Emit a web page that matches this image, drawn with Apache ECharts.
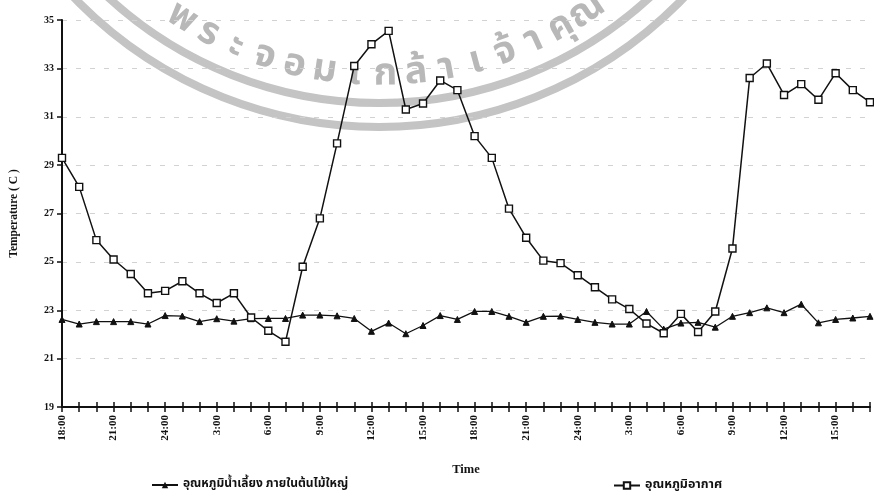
<!DOCTYPE html>
<html>
<head>
<meta charset="utf-8">
<script src="https://cdn.jsdelivr.net/npm/echarts@6/dist/echarts.min.js"></script>
<style>
  html, body { margin: 0; padding: 0; background: #fff; }
  #echart { width: 874px; height: 495px; }
</style>
</head>
<body>
<div id="echart"></div>
<script>
// hourly readings, 18:00 day 1 -> 17:00 day 3
var hours = ['18:00','19:00','20:00','21:00','22:00','23:00','24:00','1:00','2:00','3:00','4:00','5:00',
    '6:00','7:00','8:00','9:00','10:00','11:00','12:00','13:00','14:00','15:00','16:00','17:00',
    '18:00','19:00','20:00','21:00','22:00','23:00','24:00','1:00','2:00','3:00','4:00','5:00',
    '6:00','7:00','8:00','9:00','10:00','11:00','12:00','13:00','14:00','15:00','16:00','17:00'];

// อุณหภูมิน้ำเลี้ยง (triangles)
var sapTemp = [22.62, 22.43, 22.53, 22.53, 22.53, 22.43, 22.78, 22.76, 22.53, 22.65, 22.55, 22.65,
    22.66, 22.66, 22.8, 22.8, 22.77, 22.66, 22.13, 22.47, 22.03, 22.37, 22.78, 22.62,
    22.95, 22.95, 22.75, 22.5, 22.75, 22.76, 22.62, 22.5, 22.43, 22.43, 22.95, 22.22,
    22.47, 22.5, 22.3, 22.75, 22.9, 23.1, 22.9, 23.25, 22.48, 22.62, 22.68, 22.75];

// อุณหภูมิอากาศ (squares)
var airTemp = [29.3, 28.1, 25.9, 25.1, 24.5, 23.7, 23.8, 24.2, 23.7, 23.3, 23.7, 22.7,
    22.15, 21.7, 24.8, 26.8, 29.9, 33.1, 34.0, 34.55, 31.3, 31.55, 32.5, 32.1,
    30.2, 29.3, 27.2, 26.0, 25.05, 24.95, 24.45, 23.95, 23.45, 23.05, 22.45, 22.05,
    22.85, 22.1, 22.95, 25.55, 32.6, 33.2, 31.9, 32.35, 31.7, 32.8, 32.1, 31.6];

var sapName = 'อุณหภูมิน้ำเลี้ยง ภายในต้นไม้ใหญ่';
var airName = 'อุณหภูมิอากาศ';
var yTicks = [19, 35, 2];

var serif = '"Liberation Serif", "DejaVu Serif", serif';
var thai = '"Noto Sans Thai", "Loma", "Garuda", "Noto Sans", "DejaVu Sans", sans-serif';

// ตราน้ำ (watermark) ด้านบน
var wm = [];
var cx = 379, cy = -297;
wm.push({ type: 'circle', z: -10, silent: true, shape: { cx: cx, cy: cy, r: 400 },
    style: { fill: 'none', stroke: '#c4c4c4', lineWidth: 8 } });
wm.push({ type: 'circle', z: -10, silent: true, shape: { cx: cx, cy: cy, r: 424 },
    style: { fill: 'none', stroke: '#c4c4c4', lineWidth: 8 } });
var wmChars = ['พ','ร','ะ','จ','อ','ม','เ','ก','ล้','า','เ','จ้','า','คุ','ณ'];
for (var i = 0; i < wmChars.length; i++) {
    var a = (-32 + i * 66 / (wmChars.length - 1)) * Math.PI / 180;
    wm.push({
        type: 'text', z: -10, silent: true,
        x: cx + 374 * Math.sin(a), y: cy + 374 * Math.cos(a), rotation: a,
        style: { text: wmChars[i], fill: '#b8b8b8', font: 'bold 38px ' + thai,
            align: 'center', verticalAlign: 'middle' }
    });
}

var myChart = echarts.init(document.getElementById('echart'), null, { renderer: 'canvas' });
var option = {
    backgroundColor: '#fff',
    animation: false,
    graphic: wm,
    grid: { left: 62, right: 4, top: 20, bottom: 88 },
    legend: [{
        data: [sapName], left: 146, top: 474, itemWidth: 26, itemHeight: 8,
        textStyle: { fontFamily: thai, fontSize: 12, fontWeight: 'bold', color: '#111' }
    }, {
        data: [airName], left: 608, top: 474, itemWidth: 26, itemHeight: 8,
        textStyle: { fontFamily: thai, fontSize: 12.5, fontWeight: 'bold', color: '#111' }
    }],
    xAxis: [{
        type: 'category',
        data: hours,
        boundaryGap: false,
        name: 'Time',
        nameLocation: 'middle',
        nameGap: 56,
        nameTextStyle: { fontFamily: serif, fontSize: 12.5, fontWeight: 'bold', color: '#111' },
        axisLine: { lineStyle: { color: '#111', width: 2 } },
        axisTick: { interval: 0, length: 5, lineStyle: { color: '#111', width: 1.5 } },
        axisLabel: { interval: 2, rotate: 90, margin: 8, fontFamily: serif, fontSize: 11,
            fontWeight: 'bold', color: '#111' },
        splitLine: { show: false }
    }, {
        type: 'category',
        data: hours,
        boundaryGap: false,
        position: 'bottom',
        axisLine: { show: false },
        axisTick: { interval: 0, inside: true, length: 5, lineStyle: { color: '#111', width: 1.5 } },
        axisLabel: { show: false },
        splitLine: { show: false }
    }],
    yAxis: {
        type: 'value',
        min: yTicks[0],
        max: yTicks[1],
        interval: yTicks[2],
        name: 'Temperature ( C )',
        nameLocation: 'middle',
        nameRotate: 90,
        nameGap: 42,
        nameTextStyle: { fontFamily: serif, fontSize: 11.5, fontWeight: 'bold', color: '#111' },
        axisLine: { show: true, lineStyle: { color: '#111', width: 2 } },
        axisTick: { show: true, length: 5, lineStyle: { color: '#111', width: 1.5 } },
        axisLabel: { margin: 8, fontFamily: serif, fontSize: 10, fontWeight: 'bold', color: '#111' },
        splitLine: { show: true, lineStyle: { color: '#d2d2d2', width: 1, type: [5, 9] } }
    },
    series: [{
        name: sapName,
        type: 'line',
        data: sapTemp,
        symbol: 'triangle',
        symbolSize: 6,
        itemStyle: { color: '#111', borderColor: '#111' },
        lineStyle: { color: '#111', width: 1.3 },
        z: 3
    }, {
        name: airName,
        type: 'line',
        data: airTemp,
        symbol: 'rect',
        symbolSize: 7,
        itemStyle: { color: '#fff', borderColor: '#111', borderWidth: 1.4 },
        lineStyle: { color: '#111', width: 1.5 },
        z: 4
    }]
};
myChart.setOption(option);
</script>
</body>
</html>
